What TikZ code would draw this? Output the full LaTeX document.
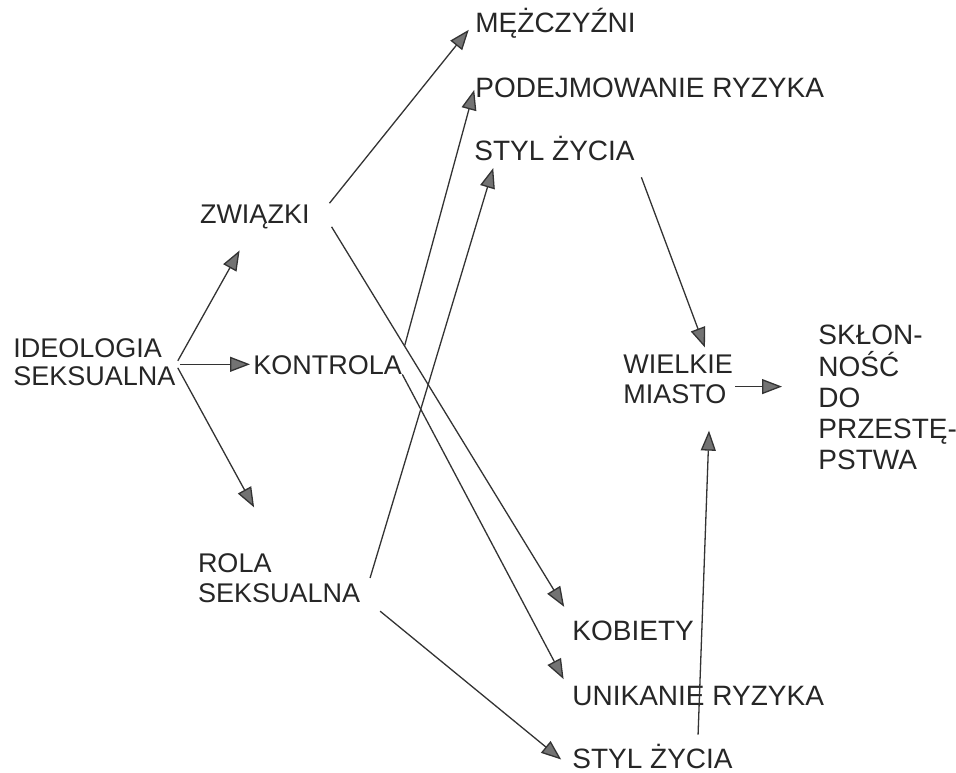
\documentclass[tikz,border=0pt]{standalone}
\usepackage{fontspec}
\setmainfont{Liberation Sans}
\usetikzlibrary{arrows.meta}

\tikzstyle{term}=[
    inner sep=0pt,
    anchor=base west,
    text=black!85,
    text height=9.7pt,
    text depth=0pt,
    font=\fontsize{13.5}{15}\selectfont,
  ]
\tikzstyle{bigterm}=[
    term,
    text height=10pt,
    font=\fontsize{14}{15.6}\selectfont,
  ]
\tikzstyle{block}=[
    inner sep=0pt,
    anchor=north west,
    align=left,
    text=black!85,
    font=\fontsize{13.5}{15}\selectfont,
  ]
\tikzstyle{infl}=[
    draw=black!80,
    line width=0.65pt,
    -{Triangle[length=10pt,width=7.5pt,fill=black!55]},
  ]

\begin{document}
\begin{tikzpicture}[x=0.5pt,y=-0.5pt]
      \useasboundingbox (0,0) rectangle (956,772);
      % left side
      \node[block, font=\fontsize{13.5}{14}\selectfont] (ideo) at (13,338) {IDEOLOGIA\\SEKSUALNA};
      \node[term, outer xsep=10pt] (zw) at (180,223) {ZWIĄZKI};
      \node[term] (kon) at (253,374) {KONTROLA};
      \node[block, outer xsep=5pt] (rola) at (188,553) {ROLA\\SEKSUALNA};
      % right side
      \node[bigterm] (mez) at (475,32) {MĘŻCZYŹNI};
      \node[bigterm] (podej) at (475,97) {PODEJMOWANIE RYZYKA};
      \node[bigterm] (stylg) at (474,160) {STYL ŻYCIA};
      \node[bigterm] (kob) at (572,640) {KOBIETY};
      \node[bigterm] (unik) at (572,705) {UNIKANIE RYZYKA};
      \node[bigterm] (styld) at (572,768) {STYL ŻYCIA};
      \node[block] (wm) at (623,355) {WIELKIE\\MIASTO};
      \node[block, font=\fontsize{14}{15.6}\selectfont] (skl) at (818,325) {SKŁON-\\NOŚĆ\\DO\\PRZESTĘ-\\PSTWA};
      % arrows
      \draw[infl, shorten <=2pt, shorten >=15.5pt] (ideo.east|-kon.west) -- (zw.south);
      \draw[infl, shorten <=2pt, shorten >=1.5pt] (ideo.east|-kon.west) -- (kon.west);
      \draw[infl, shorten <=2pt, shorten >=26pt] (ideo.east|-kon.west) -- (rola.north);
      \draw[infl, shorten >=5pt] (zw.north east) -- (mez.west);
      \draw[infl, shorten <=2pt, shorten >=7.5pt] (zw.south east) -- (kob.north west);
      \draw[infl, shorten <=4.5pt, shorten >=1.5pt] (kon.north east) -- (podej.west);
      \draw[infl, shorten >=9pt] (kon.south east) -- (unik.west);
      \draw[infl, shorten >=4pt] (rola.east) -- (stylg.190);
      \draw[infl, shorten <=6.5pt, shorten >=7pt] (rola.south east) -- (styld.south west);
      \draw[infl, shorten <=9pt, shorten >=4pt] (stylg.south east) -- (wm.40);
      \draw[infl, shorten <=1pt, shorten >=18pt] (wm.-7) -- (wm.-7-|skl.west);
      \draw[infl, shorten <=6.5pt, shorten >=13pt] (styld.13) -- (wm.-38);
    \end{tikzpicture}
\end{document}
